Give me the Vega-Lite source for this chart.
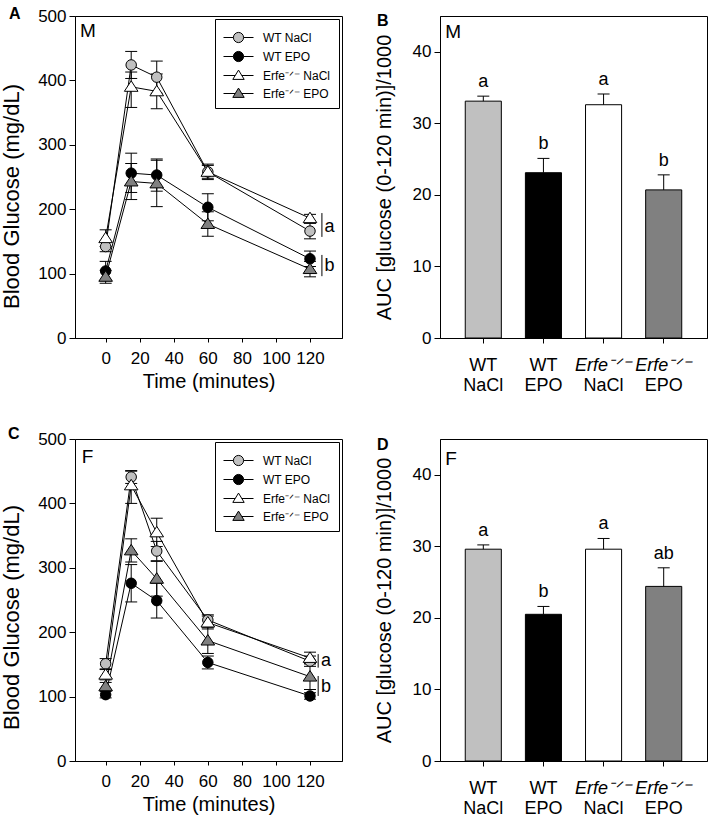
{
  "$schema": "https://vega.github.io/schema/vega-lite/v6.json",
  "padding": {"left": 0, "top": 5, "right": 0, "bottom": 0},
  "background": "white",
  "columns": 2,
  "spacing": {"row": 101, "column": 98},
  "bounds": "flush",
  "config": {
    "font": "Liberation Sans",
    "view": {"stroke": "black", "strokeWidth": 1},
    "axis": {"grid": false, "domainColor": "black", "tickColor": "black", "labelColor": "black", "titleColor": "black", "labelFontSize": 17, "titleFontSize": 20, "titleFontWeight": "normal", "labelFont": "Liberation Sans", "titleFont": "Liberation Sans", "domainWidth": 1, "tickWidth": 1},
    "axisX": {"tickSize": 4, "labelPadding": 8, "titlePadding": 5},
    "axisY": {"tickSize": 6, "labelPadding": 3},
    "title": {"fontSize": 16, "fontWeight": "bold", "anchor": "start", "frame": "group", "baseline": "alphabetic", "color": "black", "font": "Liberation Sans"},
    "text": {"color": "black", "font": "Liberation Sans"}
  },
  "concat": [
    {
      "width": 267, "height": 322,
      "title": {"text": "A", "dx": -66, "offset": -15, "fontSize": 16, "fontWeight": "bold"},
      "data": {"values": [
        {"series": "WT NaCl", "t": 0, "mean": 142, "lo": 134, "hi": 150},
        {"series": "WT NaCl", "t": 15, "mean": 424, "lo": 403, "hi": 445},
        {"series": "WT NaCl", "t": 30, "mean": 405, "lo": 380, "hi": 430},
        {"series": "WT NaCl", "t": 60, "mean": 258, "lo": 248, "hi": 268},
        {"series": "WT NaCl", "t": 120, "mean": 166, "lo": 154, "hi": 178},
        {"series": "WT EPO", "t": 0, "mean": 104, "lo": 89, "hi": 119},
        {"series": "WT EPO", "t": 15, "mean": 256, "lo": 226, "hi": 287},
        {"series": "WT EPO", "t": 30, "mean": 253, "lo": 228, "hi": 278},
        {"series": "WT EPO", "t": 60, "mean": 203, "lo": 182, "hi": 224},
        {"series": "WT EPO", "t": 120, "mean": 123, "lo": 111, "hi": 135},
        {"series": "Erfe-/- NaCl", "t": 0, "mean": 155, "lo": 142, "hi": 168},
        {"series": "Erfe-/- NaCl", "t": 15, "mean": 390, "lo": 358, "hi": 413},
        {"series": "Erfe-/- NaCl", "t": 30, "mean": 383, "lo": 356, "hi": 410},
        {"series": "Erfe-/- NaCl", "t": 60, "mean": 258, "lo": 246, "hi": 270},
        {"series": "Erfe-/- NaCl", "t": 120, "mean": 186, "lo": 179, "hi": 192},
        {"series": "Erfe-/- EPO", "t": 0, "mean": 95, "lo": 85, "hi": 105},
        {"series": "Erfe-/- EPO", "t": 15, "mean": 243, "lo": 215, "hi": 271},
        {"series": "Erfe-/- EPO", "t": 30, "mean": 240, "lo": 204, "hi": 276},
        {"series": "Erfe-/- EPO", "t": 60, "mean": 177, "lo": 158, "hi": 196},
        {"series": "Erfe-/- EPO", "t": 120, "mean": 107, "lo": 95, "hi": 119}
      ]},
      "layer": [
        {"mark": {"type": "line", "color": "black", "strokeWidth": 1},
         "encoding": {
           "x": {"field": "t", "type": "quantitative", "scale": {"domain": [-18, 138.8], "nice": false, "zero": false}, "axis": {"values": [0, 20, 40, 60, 80, 100, 120], "title": "Time (minutes)"}},
           "y": {"field": "mean", "type": "quantitative", "scale": {"domain": [0, 500], "nice": false}, "axis": {"values": [0, 100, 200, 300, 400, 500], "title": "Blood Glucose (mg/dL)", "titlePadding": 14, "titleFontSize": 22, "titleY": 180}},
           "detail": {"field": "series", "type": "nominal"},
           "order": {"field": "t", "type": "quantitative"}}},
        {"mark": {"type": "rule", "color": "black", "strokeWidth": 1},
         "encoding": {"x": {"field": "t", "type": "quantitative"}, "y": {"field": "lo", "type": "quantitative"}, "y2": {"field": "hi"}}},
        {"mark": {"type": "tick", "orient": "horizontal", "size": 12, "thickness": 1, "color": "black", "opacity": 1},
         "encoding": {"x": {"field": "t", "type": "quantitative"}, "y": {"field": "lo", "type": "quantitative"}}},
        {"mark": {"type": "tick", "orient": "horizontal", "size": 12, "thickness": 1, "color": "black", "opacity": 1},
         "encoding": {"x": {"field": "t", "type": "quantitative"}, "y": {"field": "hi", "type": "quantitative"}}},
        {"mark": {"type": "point", "filled": true, "stroke": "black", "strokeWidth": 1, "size": 110, "opacity": 1},
         "encoding": {
           "x": {"field": "t", "type": "quantitative"},
           "y": {"field": "mean", "type": "quantitative"},
           "fill": {"field": "series", "type": "nominal", "scale": {"domain": ["WT NaCl", "WT EPO", "Erfe-/- NaCl", "Erfe-/- EPO"], "range": ["#c0c0c0", "#000000", "#ffffff", "#808080"]}, "legend": null},
           "shape": {"field": "series", "type": "nominal", "scale": {"domain": ["WT NaCl", "WT EPO", "Erfe-/- NaCl", "Erfe-/- EPO"], "range": ["M1,0A1,1 0 1,1 -1,0A1,1 0 1,1 1,0Z", "M1,0A1,1 0 1,1 -1,0A1,1 0 1,1 1,0Z", "M0,-1.15L1.3,0.85L-1.3,0.85Z", "M0,-1.15L1.3,0.85L-1.3,0.85Z"]}, "legend": null}}},
        {"mark": {"type": "point", "filled": true, "stroke": "black", "strokeWidth": 1, "size": 110, "opacity": 0},
         "encoding": {
           "x": {"field": "t", "type": "quantitative"},
           "y": {"field": "mean", "type": "quantitative"},
           "fill": {"field": "series", "type": "nominal", "scale": {"domain": ["WT NaCl", "WT EPO", "Erfe-/- NaCl", "Erfe-/- EPO"], "range": ["#c0c0c0", "#000000", "#ffffff", "#808080"]},
             "legend": {"title": null, "orient": "top-right", "offset": 3, "padding": 8, "strokeColor": "black", "fillColor": "white", "symbolSize": 400, "symbolOffset": 5, "symbolStrokeWidth": 1, "symbolStrokeColor": "black", "symbolOpacity": 1, "labelFontSize": 12, "labelColor": "black", "labelFont": "Liberation Sans", "labelOffset": 14, "rowPadding": 1, "labelExpr": "replace(datum.label, '-/-', '⁻ᐟ⁻')",
               "encode": {"symbols": {"update": {"stroke": {"value": "black"}, "strokeWidth": {"value": 1}, "strokeOpacity": {"value": 1}, "opacity": {"value": 1}}}}}},
           "shape": {"field": "series", "type": "nominal", "scale": {"domain": ["WT NaCl", "WT EPO", "Erfe-/- NaCl", "Erfe-/- EPO"], "range": ["M-1.5,0H-0.51M0.51,0H1.5M0.51,0A0.51,0.51 0 1,1 -0.51,0A0.51,0.51 0 1,1 0.51,0Z", "M-1.5,0H-0.51M0.51,0H1.5M0.51,0A0.51,0.51 0 1,1 -0.51,0A0.51,0.51 0 1,1 0.51,0Z", "M-1.5,0H-0.33M0.33,0H1.5M0,-0.54L0.57,0.39L-0.57,0.39Z", "M-1.5,0H-0.33M0.33,0H1.5M0,-0.54L0.57,0.39L-0.57,0.39Z"]},
             "legend": {"title": null, "orient": "top-right", "offset": 3, "padding": 8, "strokeColor": "black", "fillColor": "white", "symbolSize": 400, "symbolOffset": 5, "symbolStrokeWidth": 1, "symbolStrokeColor": "black", "symbolOpacity": 1, "labelFontSize": 12, "labelColor": "black", "labelFont": "Liberation Sans", "labelOffset": 14, "rowPadding": 1, "labelExpr": "replace(datum.label, '-/-', '⁻ᐟ⁻')",
               "encode": {"symbols": {"update": {"stroke": {"value": "black"}, "strokeWidth": {"value": 1}, "strokeOpacity": {"value": 1}, "opacity": {"value": 1}}}}}}}},
        {"data": {"values": [{}]}, "mark": {"type": "text", "align": "left", "baseline": "top", "fontSize": 19},
         "encoding": {"x": {"datum": -15}, "y": {"datum": 490}, "text": {"value": "M"}}},
        {"data": {"values": [{}]}, "mark": {"type": "rule", "color": "black", "strokeWidth": 1},
         "encoding": {"x": {"datum": 127}, "y": {"datum": 157}, "y2": {"datum": 194}}},
        {"data": {"values": [{}]}, "mark": {"type": "text", "align": "left", "baseline": "middle", "fontSize": 18},
         "encoding": {"x": {"datum": 128.5}, "y": {"datum": 172}, "text": {"value": "a"}}},
        {"data": {"values": [{}]}, "mark": {"type": "rule", "color": "black", "strokeWidth": 1},
         "encoding": {"x": {"datum": 127}, "y": {"datum": 96}, "y2": {"datum": 129}}},
        {"data": {"values": [{}]}, "mark": {"type": "text", "align": "left", "baseline": "middle", "fontSize": 18},
         "encoding": {"x": {"datum": 128.5}, "y": {"datum": 112}, "text": {"value": "b"}}}
      ],
      "resolve": {"scale": {"fill": "independent", "shape": "independent"}}
    },
    {
      "width": 267, "height": 322,
      "title": {"text": "B", "dx": -63, "offset": -13, "fontSize": 16, "fontWeight": "bold"},
      "data": {"values": [
        {"group": "WT NaCl", "auc": 33.1, "hi": 33.8, "sig": "a"},
        {"group": "WT EPO", "auc": 23.1, "hi": 25.1, "sig": "b"},
        {"group": "Erfe-/- NaCl", "auc": 32.6, "hi": 34.1, "sig": "a"},
        {"group": "Erfe-/- EPO", "auc": 20.7, "hi": 22.8, "sig": "b"}
      ]},
      "layer": [
        {"mark": {"type": "bar", "stroke": "black", "strokeWidth": 1, "opacity": 1},
         "encoding": {
           "x": {"field": "group", "type": "nominal", "scale": {"domain": ["WT NaCl", "WT EPO", "Erfe-/- NaCl", "Erfe-/- EPO"], "paddingInner": 0.4, "paddingOuter": 0.42},
             "axis": {"orient": "bottom", "title": null, "labelAngle": 0, "labelFontSize": 18, "tickSize": 5, "labelPadding": 13, "labelExpr": "indexof(datum.value, 'Erfe') >= 0 ? 'Erfe⁻ᐟ⁻' : 'WT'", "labelFontStyle": {"condition": {"test": "indexof(datum.value, 'Erfe') >= 0", "value": "italic"}, "value": "normal"}}},
           "y": {"field": "auc", "type": "quantitative", "scale": {"domain": [0, 45], "nice": false}, "axis": {"values": [0, 10, 20, 30, 40], "title": "AUC [glucose (0-120 min)]/1000", "titlePadding": 18}},
           "fill": {"field": "group", "type": "nominal", "scale": {"domain": ["WT NaCl", "WT EPO", "Erfe-/- NaCl", "Erfe-/- EPO"], "range": ["#c0c0c0", "#000000", "#ffffff", "#808080"]}, "legend": null}}},
        {"mark": {"type": "rule", "color": "black", "strokeWidth": 1},
         "encoding": {
           "x": {"field": "group", "type": "nominal", "axis": {"orient": "bottom", "title": null, "labelAngle": 0, "labelFontSize": 18, "domain": false, "ticks": true, "tickSize": 5, "tickOpacity": 0, "labelPadding": 33, "labelExpr": "indexof(datum.value, 'NaCl') >= 0 ? 'NaCl' : 'EPO'"}},
           "y": {"field": "auc", "type": "quantitative"}, "y2": {"field": "hi"}}},
        {"mark": {"type": "tick", "orient": "horizontal", "size": 12, "thickness": 1, "color": "black", "opacity": 1},
         "encoding": {"x": {"field": "group", "type": "nominal", "axis": null}, "y": {"field": "hi", "type": "quantitative"}}},
        {"mark": {"type": "text", "baseline": "alphabetic", "fontSize": 18, "dy": -9},
         "encoding": {"x": {"field": "group", "type": "nominal", "axis": null}, "y": {"field": "hi", "type": "quantitative"}, "text": {"field": "sig"}}},
        {"data": {"values": [{}]}, "mark": {"type": "text", "align": "left", "baseline": "top", "fontSize": 19, "dx": -38},
         "encoding": {"x": {"datum": "WT NaCl", "type": "nominal", "axis": null}, "y": {"datum": 44}, "text": {"value": "M"}}}
      ],
      "resolve": {"axis": {"x": "independent"}}
    },
    {
      "width": 267, "height": 322,
      "title": {"text": "C", "dx": -67, "offset": -12, "fontSize": 16, "fontWeight": "bold"},
      "data": {"values": [
        {"series": "WT NaCl", "t": 0, "mean": 151, "lo": 143, "hi": 159},
        {"series": "WT NaCl", "t": 15, "mean": 441, "lo": 431, "hi": 451},
        {"series": "WT NaCl", "t": 30, "mean": 326, "lo": 311, "hi": 341},
        {"series": "WT NaCl", "t": 60, "mean": 219, "lo": 211, "hi": 227},
        {"series": "WT NaCl", "t": 120, "mean": 155, "lo": 147, "hi": 163},
        {"series": "WT EPO", "t": 0, "mean": 103, "lo": 98, "hi": 108},
        {"series": "WT EPO", "t": 15, "mean": 276, "lo": 247, "hi": 305},
        {"series": "WT EPO", "t": 30, "mean": 249, "lo": 222, "hi": 276},
        {"series": "WT EPO", "t": 60, "mean": 153, "lo": 143, "hi": 163},
        {"series": "WT EPO", "t": 120, "mean": 101, "lo": 96, "hi": 106},
        {"series": "Erfe-/- NaCl", "t": 0, "mean": 134, "lo": 126, "hi": 142},
        {"series": "Erfe-/- NaCl", "t": 15, "mean": 428, "lo": 400, "hi": 450},
        {"series": "Erfe-/- NaCl", "t": 30, "mean": 355, "lo": 333, "hi": 377},
        {"series": "Erfe-/- NaCl", "t": 60, "mean": 215, "lo": 205, "hi": 225},
        {"series": "Erfe-/- NaCl", "t": 120, "mean": 160, "lo": 151, "hi": 169},
        {"series": "Erfe-/- EPO", "t": 0, "mean": 116, "lo": 110, "hi": 122},
        {"series": "Erfe-/- EPO", "t": 15, "mean": 327, "lo": 309, "hi": 345},
        {"series": "Erfe-/- EPO", "t": 30, "mean": 283, "lo": 256, "hi": 310},
        {"series": "Erfe-/- EPO", "t": 60, "mean": 187, "lo": 167, "hi": 207},
        {"series": "Erfe-/- EPO", "t": 120, "mean": 131, "lo": 111, "hi": 151}
      ]},
      "layer": [
        {"mark": {"type": "line", "color": "black", "strokeWidth": 1},
         "encoding": {
           "x": {"field": "t", "type": "quantitative", "scale": {"domain": [-18, 138.8], "nice": false, "zero": false}, "axis": {"values": [0, 20, 40, 60, 80, 100, 120], "title": "Time (minutes)"}},
           "y": {"field": "mean", "type": "quantitative", "scale": {"domain": [0, 500], "nice": false}, "axis": {"values": [0, 100, 200, 300, 400, 500], "title": "Blood Glucose (mg/dL)", "titlePadding": 14, "titleFontSize": 22, "titleY": 178}},
           "detail": {"field": "series", "type": "nominal"},
           "order": {"field": "t", "type": "quantitative"}}},
        {"mark": {"type": "rule", "color": "black", "strokeWidth": 1},
         "encoding": {"x": {"field": "t", "type": "quantitative"}, "y": {"field": "lo", "type": "quantitative"}, "y2": {"field": "hi"}}},
        {"mark": {"type": "tick", "orient": "horizontal", "size": 12, "thickness": 1, "color": "black", "opacity": 1},
         "encoding": {"x": {"field": "t", "type": "quantitative"}, "y": {"field": "lo", "type": "quantitative"}}},
        {"mark": {"type": "tick", "orient": "horizontal", "size": 12, "thickness": 1, "color": "black", "opacity": 1},
         "encoding": {"x": {"field": "t", "type": "quantitative"}, "y": {"field": "hi", "type": "quantitative"}}},
        {"mark": {"type": "point", "filled": true, "stroke": "black", "strokeWidth": 1, "size": 110, "opacity": 1},
         "encoding": {
           "x": {"field": "t", "type": "quantitative"},
           "y": {"field": "mean", "type": "quantitative"},
           "fill": {"field": "series", "type": "nominal", "scale": {"domain": ["WT NaCl", "WT EPO", "Erfe-/- NaCl", "Erfe-/- EPO"], "range": ["#c0c0c0", "#000000", "#ffffff", "#808080"]}, "legend": null},
           "shape": {"field": "series", "type": "nominal", "scale": {"domain": ["WT NaCl", "WT EPO", "Erfe-/- NaCl", "Erfe-/- EPO"], "range": ["M1,0A1,1 0 1,1 -1,0A1,1 0 1,1 1,0Z", "M1,0A1,1 0 1,1 -1,0A1,1 0 1,1 1,0Z", "M0,-1.15L1.3,0.85L-1.3,0.85Z", "M0,-1.15L1.3,0.85L-1.3,0.85Z"]}, "legend": null}}},
        {"mark": {"type": "point", "filled": true, "stroke": "black", "strokeWidth": 1, "size": 110, "opacity": 0},
         "encoding": {
           "x": {"field": "t", "type": "quantitative"},
           "y": {"field": "mean", "type": "quantitative"},
           "fill": {"field": "series", "type": "nominal", "scale": {"domain": ["WT NaCl", "WT EPO", "Erfe-/- NaCl", "Erfe-/- EPO"], "range": ["#c0c0c0", "#000000", "#ffffff", "#808080"]},
             "legend": {"title": null, "orient": "top-right", "offset": 3, "padding": 8, "strokeColor": "black", "fillColor": "white", "symbolSize": 400, "symbolOffset": 5, "symbolStrokeWidth": 1, "symbolStrokeColor": "black", "symbolOpacity": 1, "labelFontSize": 12, "labelColor": "black", "labelFont": "Liberation Sans", "labelOffset": 14, "rowPadding": 1, "labelExpr": "replace(datum.label, '-/-', '⁻ᐟ⁻')",
               "encode": {"symbols": {"update": {"stroke": {"value": "black"}, "strokeWidth": {"value": 1}, "strokeOpacity": {"value": 1}, "opacity": {"value": 1}}}}}},
           "shape": {"field": "series", "type": "nominal", "scale": {"domain": ["WT NaCl", "WT EPO", "Erfe-/- NaCl", "Erfe-/- EPO"], "range": ["M-1.5,0H-0.51M0.51,0H1.5M0.51,0A0.51,0.51 0 1,1 -0.51,0A0.51,0.51 0 1,1 0.51,0Z", "M-1.5,0H-0.51M0.51,0H1.5M0.51,0A0.51,0.51 0 1,1 -0.51,0A0.51,0.51 0 1,1 0.51,0Z", "M-1.5,0H-0.33M0.33,0H1.5M0,-0.54L0.57,0.39L-0.57,0.39Z", "M-1.5,0H-0.33M0.33,0H1.5M0,-0.54L0.57,0.39L-0.57,0.39Z"]},
             "legend": {"title": null, "orient": "top-right", "offset": 3, "padding": 8, "strokeColor": "black", "fillColor": "white", "symbolSize": 400, "symbolOffset": 5, "symbolStrokeWidth": 1, "symbolStrokeColor": "black", "symbolOpacity": 1, "labelFontSize": 12, "labelColor": "black", "labelFont": "Liberation Sans", "labelOffset": 14, "rowPadding": 1, "labelExpr": "replace(datum.label, '-/-', '⁻ᐟ⁻')",
               "encode": {"symbols": {"update": {"stroke": {"value": "black"}, "strokeWidth": {"value": 1}, "strokeOpacity": {"value": 1}, "opacity": {"value": 1}}}}}}}},
        {"data": {"values": [{}]}, "mark": {"type": "text", "align": "left", "baseline": "top", "fontSize": 19},
         "encoding": {"x": {"datum": -14}, "y": {"datum": 486}, "text": {"value": "F"}}},
        {"data": {"values": [{}]}, "mark": {"type": "rule", "color": "black", "strokeWidth": 1},
         "encoding": {"x": {"datum": 124.8}, "y": {"datum": 145}, "y2": {"datum": 166}}},
        {"data": {"values": [{}]}, "mark": {"type": "text", "align": "left", "baseline": "middle", "fontSize": 18},
         "encoding": {"x": {"datum": 126.5}, "y": {"datum": 155}, "text": {"value": "a"}}},
        {"data": {"values": [{}]}, "mark": {"type": "rule", "color": "black", "strokeWidth": 1},
         "encoding": {"x": {"datum": 124.8}, "y": {"datum": 101}, "y2": {"datum": 132}}},
        {"data": {"values": [{}]}, "mark": {"type": "text", "align": "left", "baseline": "middle", "fontSize": 18},
         "encoding": {"x": {"datum": 126.5}, "y": {"datum": 115}, "text": {"value": "b"}}}
      ],
      "resolve": {"scale": {"fill": "independent", "shape": "independent"}}
    },
    {
      "width": 267, "height": 322,
      "title": {"text": "D", "dx": -63, "offset": -14, "fontSize": 16, "fontWeight": "bold"},
      "data": {"values": [
        {"group": "WT NaCl", "auc": 29.6, "hi": 30.2, "sig": "a"},
        {"group": "WT EPO", "auc": 20.5, "hi": 21.6, "sig": "b"},
        {"group": "Erfe-/- NaCl", "auc": 29.6, "hi": 31.1, "sig": "a"},
        {"group": "Erfe-/- EPO", "auc": 24.4, "hi": 27.0, "sig": "ab"}
      ]},
      "layer": [
        {"mark": {"type": "bar", "stroke": "black", "strokeWidth": 1, "opacity": 1},
         "encoding": {
           "x": {"field": "group", "type": "nominal", "scale": {"domain": ["WT NaCl", "WT EPO", "Erfe-/- NaCl", "Erfe-/- EPO"], "paddingInner": 0.4, "paddingOuter": 0.42},
             "axis": {"orient": "bottom", "title": null, "labelAngle": 0, "labelFontSize": 18, "tickSize": 5, "labelPadding": 13, "labelExpr": "indexof(datum.value, 'Erfe') >= 0 ? 'Erfe⁻ᐟ⁻' : 'WT'", "labelFontStyle": {"condition": {"test": "indexof(datum.value, 'Erfe') >= 0", "value": "italic"}, "value": "normal"}}},
           "y": {"field": "auc", "type": "quantitative", "scale": {"domain": [0, 45], "nice": false}, "axis": {"values": [0, 10, 20, 30, 40], "title": "AUC [glucose (0-120 min)]/1000", "titlePadding": 18}},
           "fill": {"field": "group", "type": "nominal", "scale": {"domain": ["WT NaCl", "WT EPO", "Erfe-/- NaCl", "Erfe-/- EPO"], "range": ["#c0c0c0", "#000000", "#ffffff", "#808080"]}, "legend": null}}},
        {"mark": {"type": "rule", "color": "black", "strokeWidth": 1},
         "encoding": {
           "x": {"field": "group", "type": "nominal", "axis": {"orient": "bottom", "title": null, "labelAngle": 0, "labelFontSize": 18, "domain": false, "ticks": true, "tickSize": 5, "tickOpacity": 0, "labelPadding": 33, "labelExpr": "indexof(datum.value, 'NaCl') >= 0 ? 'NaCl' : 'EPO'"}},
           "y": {"field": "auc", "type": "quantitative"}, "y2": {"field": "hi"}}},
        {"mark": {"type": "tick", "orient": "horizontal", "size": 12, "thickness": 1, "color": "black", "opacity": 1},
         "encoding": {"x": {"field": "group", "type": "nominal", "axis": null}, "y": {"field": "hi", "type": "quantitative"}}},
        {"mark": {"type": "text", "baseline": "alphabetic", "fontSize": 18, "dy": -9},
         "encoding": {"x": {"field": "group", "type": "nominal", "axis": null}, "y": {"field": "hi", "type": "quantitative"}, "text": {"field": "sig"}}},
        {"data": {"values": [{}]}, "mark": {"type": "text", "align": "left", "baseline": "top", "fontSize": 19, "dx": -38},
         "encoding": {"x": {"datum": "WT NaCl", "type": "nominal", "axis": null}, "y": {"datum": 43.5}, "text": {"value": "F"}}}
      ],
      "resolve": {"axis": {"x": "independent"}}
    }
  ]
}
